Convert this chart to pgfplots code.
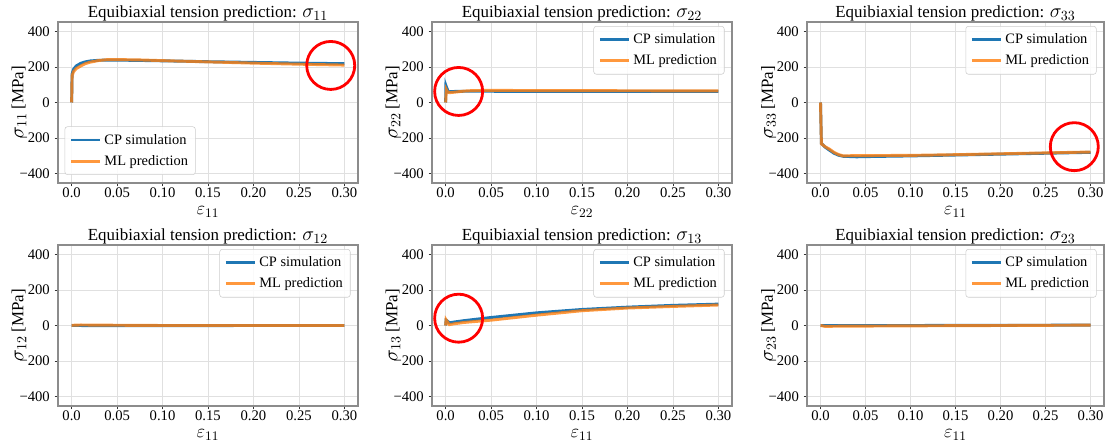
\documentclass[border=0pt]{standalone}
\usepackage{fontspec}
\setmainfont{Liberation Serif}
\usepackage{fix-cm}
\usepackage{pgfplots}
\pgfplotsset{compat=1.18}
\definecolor{mplblue}{HTML}{1F77B4}
\definecolor{mplorange}{HTML}{FF7F0E}
\newcommand\tfont{\fontsize{12.7}{14}\selectfont}
\newcommand\mfont{\fontsize{15}{16}\selectfont}
\newcommand\xfont{\fontsize{14}{15}\selectfont}
\newcommand\ptitle[1]{\tfont Equibiaxial tension prediction: {\mfont$\sigma_{#1}$}}
\newcommand\ylab[1]{{\mfont$\sigma_{#1}$} {\tfont[MPa]}}
\newcommand\xlab[1]{{\xfont$\varepsilon_{#1}$}}
\tikzset{circ/.style={red, line width=2.1pt}}
\pgfplotsset{
  panel/.style={
    scale only axis,
    width=225pt, height=120.75pt,
    anchor=south west,
    xmin=-0.015, xmax=0.315, ymin=-452, ymax=452,
    xtick={0,0.05,0.1,0.15,0.2,0.25,0.3},
    xticklabels={0.0,0.05,0.10,0.15,0.20,0.25,0.30},
    ytick={-400,-200,0,200,400},
    yticklabels={−400,−200,0,200,400},
    tick label style={font=\fontsize{11}{12}\selectfont},
    xticklabel style={inner ysep=1pt},
    xtick pos=bottom, ytick pos=left,
    tick align=outside, major tick length=2.6pt,
    every tick/.style={black!80, line width=0.5pt},
    axis line style={black!45, line width=0.8pt},
    grid=major, major grid style={black!12, line width=0.4pt},
    every axis title/.style={at={(0.5,1)}, anchor=base, yshift=3pt},
    every axis y label/.style={at={(axis description cs:-0.13,0.5)}, rotate=90, anchor=center},
    every axis x label/.style={at={(axis description cs:0.5,-0.178)}, anchor=center, inner sep=0pt},
    legend style={font=\fontsize{10.8}{12}\selectfont, draw=black!20, rounded corners=2pt,
      fill=white, fill opacity=0.85, text opacity=1, row sep=3pt, inner xsep=3.5pt, inner ysep=3.5pt},
    legend image code/.code={\draw[#1] (0pt,0pt) -- (22pt,0pt);},
    legend cell align=left,
    clip=false,
  },
  cp/.style={mplblue, line width=2.2pt},
  ml/.style={mplorange, opacity=0.8, line width=2.2pt},
  ur/.style={legend style={at={(0.975,0.975)}, anchor=north east}},
}
\begin{document}
\begin{tikzpicture}
\useasboundingbox (0,0) rectangle (829.5pt,331.5pt);
% ---- sigma 11
\begin{axis}[panel, at={(43.5pt,194.25pt)},
  title={\ptitle{11}}, xlabel={\xlab{11}}, ylabel={\ylab{11}},
  legend style={at={(0.022,0.05)}, anchor=south west}]
\addplot[cp] coordinates {(0,0) (0.0005,160) (0.002,185) (0.005,205) (0.01,220) (0.015,228) (0.02,233) (0.03,237) (0.04,238) (0.05,238) (0.075,236) (0.1,234) (0.15,229) (0.2,225) (0.25,221) (0.3,218)};
\addlegendentry{CP simulation}
\addplot[ml] coordinates {(0,0) (0.0005,150) (0.002,172) (0.005,190) (0.01,205) (0.015,218) (0.02,226) (0.03,236) (0.04,241) (0.05,241) (0.075,239) (0.1,235) (0.15,228) (0.2,221) (0.25,215) (0.3,210)};
\addlegendentry{ML prediction}
\draw[circ] (axis cs:0.285,208) circle[radius=18pt];
\end{axis}
% ---- sigma 22
\begin{axis}[panel, ur, at={(324pt,194.25pt)},
  title={\ptitle{22}}, xlabel={\xlab{22}}, ylabel={\ylab{22}}]
\addplot[cp] coordinates {(0,0) (0.0003,95) (0.001,85) (0.003,60) (0.01,62) (0.02,63) (0.05,63) (0.1,62) (0.2,62) (0.3,62)};
\addlegendentry{CP simulation}
\addplot[ml] coordinates {(0,0) (0.0008,72) (0.002,60) (0.004,55) (0.01,58) (0.02,64) (0.03,67) (0.05,68) (0.1,67) (0.2,66) (0.3,65)};
\addlegendentry{ML prediction}
\draw[circ] (axis cs:0.0143,62) circle[radius=18pt];
\end{axis}
% ---- sigma 33
\begin{axis}[panel, ur, at={(605.25pt,194.25pt)}, width=222.75pt,
  title={\ptitle{33}}, xlabel={\xlab{11}}, ylabel={\ylab{33}}]
\addplot[cp] coordinates {(0,0) (0.001,-230) (0.005,-250) (0.01,-268) (0.015,-285) (0.02,-296) (0.025,-302) (0.04,-305) (0.06,-303) (0.1,-300) (0.15,-295) (0.2,-290) (0.25,-285) (0.3,-280)};
\addlegendentry{CP simulation}
\addplot[ml] coordinates {(0,0) (0.001,-232) (0.005,-248) (0.01,-262) (0.015,-280) (0.02,-292) (0.025,-300) (0.03,-299) (0.05,-298) (0.1,-297) (0.15,-293) (0.2,-288) (0.25,-283) (0.3,-278)};
\addlegendentry{ML prediction}
\draw[circ] (axis cs:0.282,-248) circle[radius=18pt];
\end{axis}
% ---- sigma 12
\begin{axis}[panel, ur, at={(43.5pt,27pt)}, height=120.75pt,
  title={\ptitle{12}}, xlabel={\xlab{11}}, ylabel={\ylab{12}}]
\addplot[cp] coordinates {(0,0) (0.05,-1) (0.1,-1) (0.2,0) (0.3,0)};
\addlegendentry{CP simulation}
\addplot[ml] coordinates {(0,1) (0.01,3) (0.03,2) (0.1,0) (0.2,0) (0.3,0)};
\addlegendentry{ML prediction}
\end{axis}
% ---- sigma 13
\begin{axis}[panel, ur, at={(324pt,27pt)}, height=120.75pt,
  title={\ptitle{13}}, xlabel={\xlab{11}}, ylabel={\ylab{13}}]
\addplot[cp] coordinates {(0,0) (0.0005,30) (0.002,25) (0.004,15) (0.01,20) (0.02,27) (0.05,45) (0.1,71) (0.15,90) (0.2,103) (0.25,113) (0.3,120)};
\addlegendentry{CP simulation}
\addplot[ml] coordinates {(0,0) (0.0005,32) (0.002,20) (0.004,5) (0.01,10) (0.02,17) (0.05,30) (0.1,58) (0.15,83) (0.2,98) (0.25,107) (0.3,115)};
\addlegendentry{ML prediction}
\draw[circ] (axis cs:0.0143,41) circle[radius=18pt];
\end{axis}
% ---- sigma 23
\begin{axis}[panel, ur, at={(605.25pt,27pt)}, width=222.75pt, height=120.75pt,
  title={\ptitle{23}}, xlabel={\xlab{11}}, ylabel={\ylab{23}}]
\addplot[cp] coordinates {(0,0) (0.05,0) (0.1,0) (0.2,1) (0.3,2)};
\addlegendentry{CP simulation}
\addplot[ml] coordinates {(0,0) (0.005,-5) (0.02,-4) (0.1,-2) (0.2,0) (0.3,2)};
\addlegendentry{ML prediction}
\end{axis}
\end{tikzpicture}
\end{document}
